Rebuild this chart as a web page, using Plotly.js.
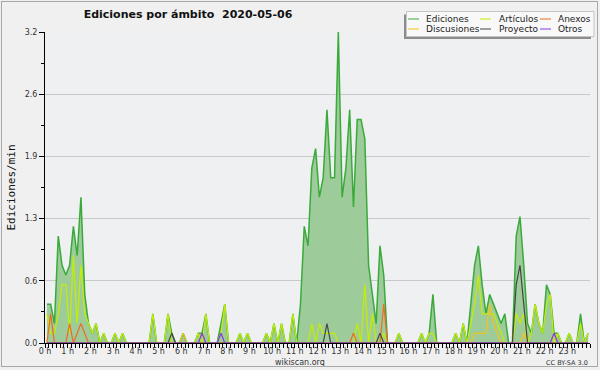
<!DOCTYPE html>
<html><head><meta charset="utf-8">
<script src="https://cdn.plot.ly/plotly-3.0.1.min.js"></script>
<style>
html,body{margin:0;padding:0;background:#f0f0f0;}
#wrap{position:relative;width:600px;height:370px;}
#chart{width:600px;height:370px;}
#frame{position:absolute;left:1px;top:1px;width:597px;height:366px;box-sizing:border-box;border:1px solid #a8a8a8;pointer-events:none;}
</style></head><body>
<div id="wrap"><div id="chart"></div><div id="frame"></div></div>
<script>
// ---- data (edits per minute, 10-minute slots, one row per hour) ----
const hourLabels = ['0 h','1 h','2 h','3 h','4 h','5 h','6 h','7 h','8 h','9 h','10 h','11 h',
  '12 h','13 h','14 h','15 h','16 h','17 h','18 h','19 h','20 h','21 h','22 h','23 h'];
const yTickValues = [0, 0.64, 1.28, 1.92, 2.56, 3.2];
const yTickLabels = ['0.0','0.6','1.3','1.9','2.6','3.2'];
const seriesNames = ['Ediciones','Artículos','Anexos','Discusiones','Proyecto','Otros'];

const ediciones = [
  0.4,0.4,0.2,1.1,0.8,0.7,
  0.8,1.2,0.9,1.5,0.5,0.2,
  0.1,0.2,0,0.1,0,0,
  0.1,0,0.1,0,0,0,
  0,0,0,0,0.3,0,
  0,0,0.3,0.1,0,0,
  0.1,0,0,0,0.1,0.1,
  0.3,0,0,0,0.2,0.4,
  0,0,0,0.1,0,0.1,
  0,0,0,0,0.1,0,
  0.2,0,0.2,0,0,0.3,
  0,0.4,1.2,1.0,1.8,2.0,
  1.5,1.7,2.4,1.7,1.7,3.2,
  1.5,1.8,2.4,1.4,2.3,2.3,
  2.1,0.8,0.5,0.2,1.0,0.7,
  0,0,0,0.1,0,0,
  0,0,0,0.1,0,0.1,
  0.5,0,0,0,0,0,
  0.1,0,0.2,0,0.4,0.8,
  1.0,0.6,0.3,0.5,0.4,0.3,
  0.2,0.3,0,0,1.1,1.3,
  0.8,0.2,0.1,0.4,0.2,0.1,
  0.6,0.5,0.1,0.1,0,0,
  0.1,0,0,0.3,0,0.1
];
const articulos = [
  0.3,0.1,0.1,0.3,0.6,0.6,
  0.1,0.9,0.2,0.8,0.3,0.2,
  0.1,0.2,0,0.1,0,0,
  0.1,0,0.1,0,0,0,
  0,0,0,0,0.3,0,
  0,0,0.3,0,0,0,
  0,0,0,0,0.1,0,
  0.3,0,0,0,0.1,0.4,
  0,0,0,0.1,0,0.1,
  0,0,0,0,0.1,0,
  0.2,0,0.2,0,0,0.3,
  0,0,0,0,0.2,0,
  0.2,0.1,0.1,0.1,0.1,0,
  0,0,0,0,0.2,0,
  0.6,0,0.3,0,0,0.1,
  0,0,0,0.1,0,0,
  0,0,0,0.1,0,0.1,
  0.1,0,0,0,0,0,
  0.1,0,0.2,0,0.2,0.4,
  0.7,0.3,0.3,0.3,0.3,0.2,
  0.1,0,0,0,0.3,0.2,
  0.3,0,0.1,0.4,0.2,0.1,
  0.4,0.5,0,0.1,0,0,
  0.1,0,0,0.2,0,0.1
];
const anexos = [
  0,0.3,0,0,0,0,
  0.2,0,0.1,0.2,0.1,0,
  0,0,0,0,0,0,
  0,0,0,0,0,0,
  0,0,0,0,0,0,
  0,0,0,0,0,0,
  0,0,0,0,0,0,
  0,0,0,0,0,0,
  0,0,0,0,0,0,
  0,0,0,0,0,0,
  0,0,0,0,0,0,
  0,0,0,0,0,0,
  0,0,0,0,0,0,
  0,0,0,0.1,0,0,
  0,0,0,0,0,0.4,
  0,0,0,0,0,0,
  0,0,0,0,0,0,
  0,0,0,0,0,0,
  0,0,0,0,0,0,
  0,0,0,0,0,0,
  0,0,0,0,0,0,
  0,0,0,0,0,0,
  0,0,0,0,0,0,
  0,0,0,0,0,0
];
const discusiones = [
  0,0,0,0,0,0,
  0,0,0,0,0,0,
  0,0,0,0,0,0,
  0,0,0,0,0,0,
  0,0,0,0,0,0,
  0,0,0,0,0,0,
  0.1,0,0,0,0,0,
  0,0,0,0,0,0,
  0,0,0,0,0,0,
  0,0,0,0,0,0,
  0,0,0,0,0,0,
  0,0,0,0,0,0,
  0,0,0,0,0,0,
  0,0,0,0,0,0,
  0,0,0,0,0,0,
  0,0,0,0,0,0,
  0,0,0,0,0,0,
  0,0,0,0,0,0,
  0,0,0,0,0,0.1,
  0.1,0.1,0.1,0.4,0.2,0.1,
  0,0,0,0,0,0,
  0.1,0,0,0,0,0,
  0,0,0,0,0,0,
  0,0,0,0,0,0
];
const proyecto = [
  0,0,0,0,0,0,
  0,0,0,0,0,0,
  0,0,0,0,0,0,
  0,0,0,0,0,0,
  0,0,0,0,0,0,
  0,0,0,0.1,0,0,
  0,0,0,0,0,0,
  0,0,0,0,0,0,
  0,0,0,0,0,0,
  0,0,0,0,0,0,
  0,0,0,0,0,0,
  0,0,0,0,0,0,
  0,0,0.2,0,0,0,
  0,0,0,0,0,0,
  0,0,0,0,0.1,0,
  0,0,0,0,0,0,
  0,0,0,0,0,0,
  0,0,0,0,0,0,
  0,0,0,0,0,0,
  0,0,0,0,0,0,
  0,0,0,0,0.6,0.8,
  0.4,0,0,0,0,0,
  0,0,0,0,0,0,
  0,0,0,0,0,0
];
const otros = [
  0,0,0,0,0,0,
  0,0,0,0,0,0,
  0,0,0,0,0,0,
  0,0,0,0,0,0,
  0,0,0,0,0,0,
  0,0,0,0,0,0,
  0,0,0,0,0,0.1,
  0,0,0,0,0.1,0,
  0,0,0,0,0,0,
  0,0,0,0,0,0,
  0,0,0,0,0,0,
  0,0,0,0,0,0,
  0,0,0,0,0,0,
  0,0,0,0,0,0,
  0,0,0,0,0,0,
  0,0,0,0,0,0,
  0,0,0,0,0,0,
  0,0,0,0,0,0,
  0,0,0,0,0,0,
  0,0,0,0,0,0,
  0,0,0,0,0,0,
  0,0,0,0,0,0,
  0,0,0.1,0,0,0,
  0,0,0,0,0,0
];

// ---- styling ----
const colors = ['#3aaa3a','#c4ee00','#f06a24','#f2c41c','#454545','#8a34e6'];
const fillColor = '#9ecb9a';
const slotMinutes = 10;
const times = ediciones.map((_, i) => (i * slotMinutes + slotMinutes / 2) / 60);
const hours = hourLabels.map((_, i) => i);
const seriesValues = [ediciones, articulos, anexos, discusiones, proyecto, otros];

const traces = seriesValues.map((vals, k) => ({
  type: 'scatter', mode: 'lines', x: times, y: vals, name: seriesNames[k],
  line: {color: colors[k], width: k === 0 ? 1.5 : 1.2},
  fill: k === 0 ? 'tozeroy' : 'none',
  fillcolor: fillColor,
  hoverinfo: 'skip', showlegend: false
}));

// plot-area geometry in pixels
const M = {l: 45, r: 10, t: 32, b: 27};
const PW = 600 - M.l - M.r, PH = 370 - M.t - M.b;
const px = x => (x - M.l) / PW;
const py = y => (M.t + PH - y) / PH;

// hand-built legend box (3 columns x 2 rows, as in the original)
const legCols = [{s: 408, t: 424}, {s: 480, t: 497}, {s: 540, t: 556}];
const legRows = [19, 29];
const legendOrder = [0, 1, 2, 3, 4, 5]; // row-major
const shapes = [
  {type: 'rect', xref: 'paper', yref: 'paper', x0: px(404), x1: px(591), y0: py(39), y1: py(14.5),
   fillcolor: '#8c8c8c', line: {width: 0}, layer: 'above'},
  {type: 'rect', xref: 'paper', yref: 'paper', x0: px(406.5), x1: px(594), y0: py(36.5), y1: py(11.5),
   fillcolor: '#f8f8f8', line: {color: '#c4c4c4', width: 1}, layer: 'above'}
];
const annotations = [];
legendOrder.forEach((k, n) => {
  const c = legCols[n % 3], r = legRows[Math.floor(n / 3)];
  shapes.push({type: 'line', xref: 'paper', yref: 'paper', x0: px(c.s), x1: px(c.s + 11), y0: py(r), y1: py(r),
    line: {color: colors[k], width: 1}, layer: 'above'});
  annotations.push({xref: 'paper', yref: 'paper', x: px(c.t), y: py(r), xanchor: 'left', yanchor: 'middle',
    text: seriesNames[k], showarrow: false, font: {family: 'DejaVu Sans', size: 9, color: '#222'}});
});
annotations.push({xref: 'paper', yref: 'paper', x: px(300), y: py(362.5), xanchor: 'center', yanchor: 'middle',
  text: 'wikiscan.org', showarrow: false, font: {family: 'DejaVu Sans', size: 8, color: '#333'}});
annotations.push({xref: 'paper', yref: 'paper', x: px(590), y: py(363), xanchor: 'right', yanchor: 'middle',
  text: 'CC BY-SA 3.0', showarrow: false, font: {family: 'DejaVu Sans', size: 6.5, color: '#333'}});

const layout = {
  width: 600, height: 370,
  margin: {l: M.l, r: M.r, t: M.t, b: M.b, pad: 0},
  paper_bgcolor: '#f0f0f0', plot_bgcolor: '#eef0f2',
  font: {family: 'DejaVu Sans', size: 8, color: '#333'},
  title: {text: 'Ediciones por ámbito\u00a0 2020-05-06', xref: 'container', yref: 'container',
    x: 188 / 600, xanchor: 'center', y: 1 - 14 / 370, yanchor: 'middle',
    font: {family: 'DejaVu Sans', size: 11, weight: 'bold', color: '#111'}},
  xaxis: {range: [0, 24], tickmode: 'array', tickvals: hours, ticktext: hourLabels,
    ticks: 'outside', ticklen: 4, tickcolor: '#000', tickwidth: 1, ticklabelstandoff: -4,
    showline: true, linecolor: '#000', linewidth: 1, showgrid: false, zeroline: false,
    tickfont: {size: 8, color: '#333'},
    minor: {tickmode: 'linear', tick0: 0, dtick: 1 / 6, ticks: 'outside', ticklen: 4, tickcolor: '#000', showgrid: false},
    fixedrange: true},
  yaxis: {range: [0, 3.2], tickmode: 'array', tickvals: yTickValues, ticktext: yTickLabels,
    ticks: 'outside', ticklen: 5, tickcolor: '#000', tickwidth: 1,
    showline: true, linecolor: '#000', linewidth: 1,
    showgrid: true, gridcolor: '#c9c9c9', gridwidth: 1, zeroline: false,
    tickfont: {size: 8, color: '#333'},
    minor: {tickmode: 'linear', tick0: 0, dtick: 0.32, ticks: 'outside', ticklen: 3, tickcolor: '#000', showgrid: false},
    title: {text: 'Ediciones/min', standoff: 6, font: {family: 'DejaVu Sans Mono', size: 11, color: '#111'}},
    automargin: false, fixedrange: true},
  shapes: shapes,
  annotations: annotations
};

Plotly.newPlot('chart', traces, layout, {staticPlot: true, displayModeBar: false});
</script>
</body></html>
